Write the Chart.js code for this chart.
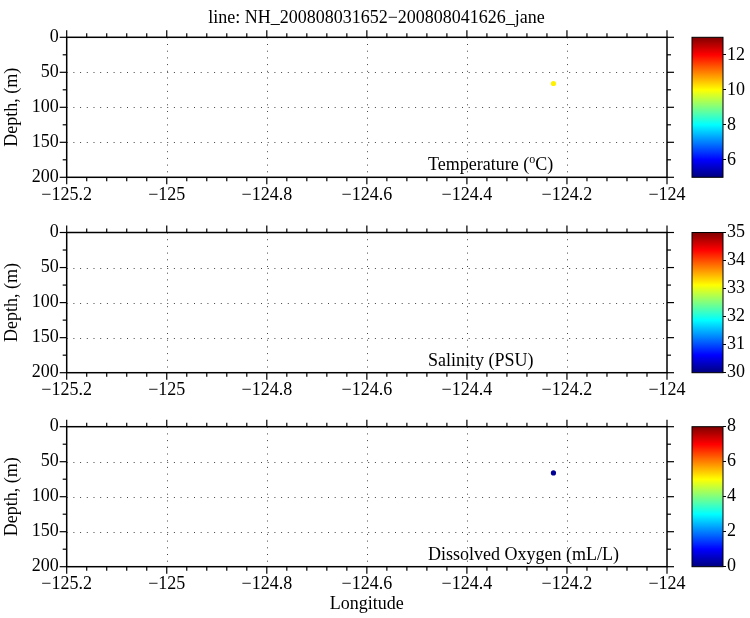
<!DOCTYPE html>
<html>
<head>
<meta charset="utf-8">
<script src="https://cdn.jsdelivr.net/npm/chart.js@4.4.1/dist/chart.umd.min.js"></script>
<style>
html,body{margin:0;padding:0;background:#fff;}
#wrap{position:relative;width:750px;height:618px;}
#wrap canvas{position:absolute;left:0;top:0;}
</style>
</head>
<body>
<div id="wrap">
  <canvas id="p0" width="750" height="618"></canvas>
  <canvas id="p1" width="750" height="618"></canvas>
  <canvas id="p2" width="750" height="618"></canvas>
  <canvas id="c0" width="750" height="618"></canvas>
  <canvas id="c1" width="750" height="618"></canvas>
  <canvas id="c2" width="750" height="618"></canvas>
</div>
<script>
// NH line section - one cast, three variables

// axes
const lonTicks = [-125.2, -125, -124.8, -124.6, -124.4, -124.2, -124];
const depthTicks = [0, 50, 100, 150, 200];

// the samples (longitude, depth) and what was measured there
const stationLon = [-124.227];
const stationDepth = [66];
const temperature = [10.1];
const salinity = [NaN];     // no salinity value for this bottle
const oxygen = [0.15];

// colour bars
const tempRange = [5, 13];
const tempTicks = [6, 8, 10, 12];
const salRange = [30, 35];
const salTicks = [30, 31, 32, 33, 34, 35];
const oxyRange = [0, 8];
const oxyTicks = [0, 2, 4, 6, 8];

const titleText = 'line: NH_200808031652\u2212200808041626_jane';

Chart.defaults.font.family = "'Liberation Serif', 'DejaVu Serif', serif";
Chart.defaults.font.size = 18;
Chart.defaults.color = '#000';

// pixel boxes of the three panels
const W = 750, H = 618;
const plotLeft = 66.7, plotRight = 667;
const cbLeft = 692, cbRight = 723;
const boxes = [
  {top: 37.3, bottom: 177.3},
  {top: 232.5, bottom: 372.7},
  {top: 426.7, bottom: 566.7}
];
const xAxisH = 40;

function clamp(v){ return Math.max(0, Math.min(1, v)); }
function jet(t){
  t = clamp(t);
  const r = clamp(1.5 - Math.abs(4*t - 3));
  const g = clamp(1.5 - Math.abs(4*t - 2));
  const b = clamp(1.5 - Math.abs(4*t - 1));
  return `rgb(${Math.round(r*255)},${Math.round(g*255)},${Math.round(b*255)})`;
}
const fmt = v => (v < 0 ? '\u2212' : '') + String(Math.abs(v));

// dotted grid, boxed frame with outward ticks, in-plot label
const frame = {
  id: 'frame',
  beforeDatasetsDraw(chart){
    const {ctx, chartArea: a, scales: {x, y}} = chart;
    ctx.save();
    ctx.strokeStyle = '#444';
    ctx.lineWidth = 1;
    ctx.setLineDash([1, 5.7]);
    lonTicks.slice(1, -1).forEach(v => {
      const px = Math.round(x.getPixelForValue(v)) + 0.5;
      ctx.beginPath(); ctx.moveTo(px, a.top); ctx.lineTo(px, a.bottom); ctx.stroke();
    });
    depthTicks.slice(1, -1).forEach(v => {
      const py = Math.round(y.getPixelForValue(v)) + 0.5;
      ctx.beginPath(); ctx.moveTo(a.left, py); ctx.lineTo(a.right, py); ctx.stroke();
    });
    ctx.restore();
  },
  afterDatasetsDraw(chart, args, opts){
    const {ctx, chartArea: a, scales: {x, y}} = chart;
    ctx.save();
    ctx.strokeStyle = '#000';
    ctx.lineWidth = 1.5;
    ctx.strokeRect(a.left, a.top, a.right - a.left, a.bottom - a.top);
    const tick = (x1, y1, x2, y2) => { ctx.beginPath(); ctx.moveTo(x1, y1); ctx.lineTo(x2, y2); ctx.stroke(); };
    ctx.lineWidth = 1.2;
    // x ticks, minor every 0.04
    for (let k = 0; k <= 30; k++){
      const v = lonTicks[0] + k*0.04;
      const px = x.getPixelForValue(v);
      const len = (k % 5 === 0) ? 7 : 4;
      tick(px, a.top, px, a.top - len);
      tick(px, a.bottom, px, a.bottom + len);
    }
    // y ticks, minor every 25
    for (let k = 0; k <= 8; k++){
      const py = y.getPixelForValue(k*25);
      const len = (k % 2 === 0) ? 7 : 4;
      tick(a.left, py, a.left - len, py);
      tick(a.right, py, a.right + len, py);
    }
    // label inside the panel
    let tx = a.left + 0.602*(a.right - a.left);
    const ty = a.bottom - 7;
    ctx.fillStyle = '#000';
    ctx.textBaseline = 'alphabetic';
    ctx.textAlign = 'left';
    opts.label.forEach(seg => {
      if (seg.sup){
        ctx.font = "12px 'Liberation Serif', serif";
        ctx.fillText(seg.t, tx, ty - 7);
      } else {
        ctx.font = "18px 'Liberation Serif', serif";
        ctx.fillText(seg.t, tx, ty);
      }
      tx += ctx.measureText(seg.t).width;
    });
    // figure title, centred on the whole figure
    if (opts.title){
      ctx.font = "18px 'Liberation Serif', serif";
      ctx.textAlign = 'center';
      ctx.textBaseline = 'middle';
      ctx.fillText(opts.title, W/2 + 1.5, 18.5);
    }
    ctx.restore();
  }
};

// colour bar fill
const cbar = {
  id: 'cbar',
  beforeDraw(chart){
    const {ctx, chartArea: a} = chart;
    const g = ctx.createLinearGradient(0, a.bottom, 0, a.top);
    [0, 0.125, 0.375, 0.625, 0.875, 1].forEach(s => g.addColorStop(s, jet(s)));
    ctx.save();
    ctx.fillStyle = g;
    ctx.fillRect(a.left, a.top, a.right - a.left, a.bottom - a.top);
    ctx.strokeStyle = '#000';
    ctx.lineWidth = 1;
    ctx.strokeRect(a.left, a.top, a.right - a.left, a.bottom - a.top);
    ctx.restore();
  }
};

const panels = [
  {values: temperature, range: tempRange, cbTicks: tempTicks,
   label: [{t: 'Temperature ('}, {t: 'o', sup: true}, {t: 'C)'}]},
  {values: salinity, range: salRange, cbTicks: salTicks,
   label: [{t: 'Salinity (PSU)'}]},
  {values: oxygen, range: oxyRange, cbTicks: oxyTicks,
   label: [{t: 'Dissolved Oxygen (mL/L)'}]}
];

panels.forEach((p, i) => {
  const b = boxes[i];
  const last = i === panels.length - 1;
  const xh = last ? H - b.bottom : xAxisH;
  const [lo, hi] = p.range;

  new Chart(document.getElementById('p' + i), {
    type: 'scatter',
    data: {
      datasets: [{
        data: stationLon.map((lon, k) => ({x: lon, y: stationDepth[k]})),
        pointBackgroundColor: p.values.map(v => isNaN(v) ? 'rgba(0,0,0,0)' : jet((v - lo)/(hi - lo))),
        pointBorderWidth: 0,
        pointRadius: 2.6,
        pointHoverRadius: 2.6
      }]
    },
    options: {
      responsive: false,
      animation: false,
      events: [],
      layout: {padding: {left: 0, right: W - plotRight, top: b.top, bottom: H - b.bottom - xh}},
      plugins: {
        legend: {display: false},
        tooltip: {enabled: false},
        frame: {label: p.label, title: i === 0 ? titleText : null}
      },
      scales: {
        x: {
          type: 'linear', min: lonTicks[0], max: lonTicks[lonTicks.length - 1],
          afterBuildTicks: s => { s.ticks = lonTicks.map(v => ({value: v})); },
          afterFit: s => { s.height = xh; },
          grid: {display: false, drawTicks: false},
          border: {display: false},
          ticks: {padding: 7, maxRotation: 0, autoSkip: false, callback: fmt},
          title: {display: last, text: 'Longitude', padding: {top: 0, bottom: 3.2}}
        },
        y: {
          type: 'linear', reverse: true, min: depthTicks[0], max: depthTicks[depthTicks.length - 1],
          afterBuildTicks: s => { s.ticks = depthTicks.map(v => ({value: v})); },
          afterFit: s => { s.width = plotLeft; },
          grid: {display: false, drawTicks: false},
          border: {display: false},
          ticks: {padding: 8, callback: fmt},
          title: {display: true, text: 'Depth, (m)', padding: {top: 1, bottom: 0}}
        }
      }
    },
    plugins: [frame]
  });

  new Chart(document.getElementById('c' + i), {
    type: 'scatter',
    data: {datasets: []},
    options: {
      responsive: false,
      animation: false,
      events: [],
      layout: {padding: {left: cbLeft, right: 0, top: b.top, bottom: H - b.bottom}},
      plugins: {legend: {display: false}, tooltip: {enabled: false}},
      scales: {
        x: {display: false, min: 0, max: 1},
        y: {
          position: 'right', min: lo, max: hi,
          afterBuildTicks: s => { s.ticks = p.cbTicks.map(v => ({value: v})); },
          afterFit: s => { s.width = W - cbRight; },
          grid: {drawOnChartArea: false, drawTicks: true, tickLength: 3, color: '#000', tickColor: '#000'},
          border: {display: false},
          ticks: {padding: 1}
        }
      }
    },
    plugins: [cbar]
  });
});
</script>
</body>
</html>
